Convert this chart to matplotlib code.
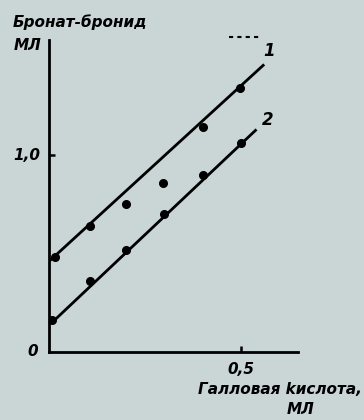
import matplotlib
matplotlib.use("Agg")
import matplotlib.pyplot as plt
from matplotlib.lines import Line2D

# data (ml gallic acid vs ml bromate-bromide)
x1 = [0.016, 0.107, 0.20, 0.297, 0.40, 0.497]
y1 = [0.48, 0.64, 0.75, 0.86, 1.14, 1.34]
line1_x = [0.0, 0.56]
line1_y = [0.46, 1.46]

x2 = [0.008, 0.107, 0.20, 0.30, 0.40, 0.50]
y2 = [0.16, 0.36, 0.52, 0.70, 0.90, 1.06]
line2_x = [0.008, 0.54]
line2_y = [0.15, 1.13]

xticks = [0.5]
xticklabels = ["0,5"]
yticks = [0, 1.0]
yticklabels = ["0", "1,0"]

bg = "#c9d6d5"
W, H = 364, 420
fig = plt.figure(figsize=(W/100, H/100), dpi=100, facecolor=bg)
ax = fig.add_axes([49/W, 68/H, 249/W, 312/H], facecolor=bg)

font = dict(family=["Liberation Sans Narrow", "DejaVu Sans"], style="italic", weight="bold")

ax.plot(line1_x, line1_y, color="black", lw=2.0, solid_capstyle="butt")
ax.plot(line2_x, line2_y, color="black", lw=2.0, solid_capstyle="butt")
ax.plot(x1, y1, "o", color="black", ms=5.5)
ax.plot(x2, y2, "o", color="black", ms=5.5)

ax.set_xlim(0, 0.648)
ax.set_ylim(0, 1.584)
for s in ["top", "right"]:
    ax.spines[s].set_visible(False)
for s in ["left", "bottom"]:
    ax.spines[s].set_linewidth(2.0)
ax.set_xticks(xticks)
ax.set_xticklabels([])
ax.set_yticks([1.0])
ax.set_yticklabels([])
ax.tick_params(direction="in", length=4, width=1.8)

# tick labels
ax.text(0.5, -0.055, xticklabels[0], transform=ax.get_xaxis_transform(),
        ha="center", va="center", fontsize=11, **font)
ax.text(-0.033, yticks[1], yticklabels[1], transform=ax.get_yaxis_transform(),
        ha="right", va="center", fontsize=11, **font)
ax.text(-0.065, 0.005, yticklabels[0], transform=ax.get_yaxis_transform(),
        ha="center", va="center", fontsize=11, **font)

# axis titles
fig.text(13/W, 1 - 22/H, "Бронат-бронид", ha="left", va="center", fontsize=11, **font)
fig.text(28/W, 1 - 45/H, "МЛ", ha="center", va="center", fontsize=11, **font)
fig.text(362/W, 1 - 390/H, "Галловая kислота,", ha="right", va="center", fontsize=11, **font)
fig.text(301/W, 1 - 410/H, "МЛ", ha="center", va="center", fontsize=11, **font)

# curve labels
fig.text(269/W, 1 - 51/H, "1", ha="center", va="center", fontsize=12, **font)
fig.text(268/W, 1 - 120/H, "2", ha="center", va="center", fontsize=12, **font)

# small dashed mark above curve 1 label
fig.add_artist(Line2D([229/W, 262/W], [1 - 37/H, 1 - 37/H], color="black",
                      lw=1.5, ls=(0, (2, 2))))

fig.savefig("out.png", dpi=100, facecolor=bg)
